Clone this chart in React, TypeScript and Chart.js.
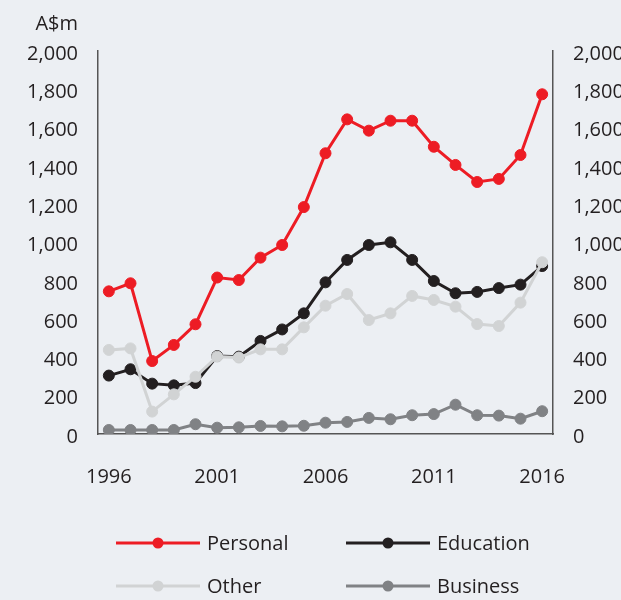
import React, { useEffect, useRef } from "react";
import { Chart, registerables } from "chart.js";

Chart.register(...registerables);

const years = [
  "1996", "1997", "1998", "1999", "2000", "2001", "2002", "2003", "2004", "2005",
  "2006", "2007", "2008", "2009", "2010", "2011", "2012", "2013", "2014", "2015", "2016",
];
const xTickLabels = ["1996", "2001", "2006", "2011", "2016"];

const personal = [745, 787, 381, 465, 573, 817, 804, 921, 987, 1185, 1466, 1643, 1584, 1636, 1636, 1500, 1405, 1316, 1332, 1457, 1774];
const education = [305, 338, 263, 254, 266, 407, 404, 486, 546, 630, 792, 909, 987, 1001, 909, 799, 735, 742, 762, 780, 877];
const other = [439, 447, 117, 207, 299, 404, 399, 442, 442, 557, 670, 731, 595, 630, 721, 700, 665, 574, 564, 686, 897];
const business = [21, 21, 21, 21, 51, 33, 35, 42, 40, 43, 59, 63, 84, 77, 98, 104, 153, 98, 96, 80, 119];

const unitLabel = "A$m";
const FONT = "'Open Sans', sans-serif";
const TEXT = "#231F20";
const BG = "#ECEFF3";
const AXIS = "#555555";

const seriesDefs = [
  { label: "Personal", data: personal, color: "#ED1C24", order: 1 },
  { label: "Education", data: education, color: "#231F20", order: 2 },
  { label: "Other", data: other, color: "#D1D3D4", order: 0 },
  { label: "Business", data: business, color: "#808285", order: 3 },
];

const overlayPlugin = {
  id: "overlay",
  afterDraw(chart: any) {
    const ctx = chart.ctx;
    ctx.save();
    ctx.fillStyle = TEXT;
    ctx.font = `20px ${FONT}`;
    ctx.textAlign = "right";
    ctx.textBaseline = "alphabetic";
    const left = chart.chartArea.left;
    ctx.fillText(unitLabel, left - 20, 30);

    // legend 2x2
    const cols = [116, 346];
    const rows = [543, 586];
    const lineLen = 84;
    chart.data.datasets.forEach((ds: any, i: number) => {
      const cx = cols[i % 2];
      const cy = rows[Math.floor(i / 2)];
      ctx.strokeStyle = ds.borderColor;
      ctx.lineWidth = 3;
      ctx.beginPath();
      ctx.moveTo(cx, cy);
      ctx.lineTo(cx + lineLen, cy);
      ctx.stroke();
      ctx.fillStyle = ds.borderColor;
      ctx.beginPath();
      ctx.arc(cx + lineLen / 2, cy, 5.5, 0, Math.PI * 2);
      ctx.fill();
      ctx.fillStyle = TEXT;
      ctx.textAlign = "left";
      ctx.textBaseline = "alphabetic";
      ctx.fillText(ds.label, cx + lineLen + 7, cy + 7);
    });
    ctx.restore();
  },
};

export default function App() {
  const ref = useRef<HTMLCanvasElement | null>(null);
  useEffect(() => {
    if (!ref.current) return;
    const tickFont = { family: FONT, size: 20 };
    const chart = new Chart(ref.current, {
      type: "line",
      data: {
        labels: years,
        datasets: seriesDefs.map((s) => ({
          label: s.label,
          data: s.data,
          borderColor: s.color,
          backgroundColor: s.color,
          pointBackgroundColor: s.color,
          pointBorderColor: s.color,
          borderWidth: 3,
          pointRadius: 5.5,
          pointBorderWidth: 1,
          tension: 0,
          order: s.order,
        })),
      },
      options: {
        animation: false,
        responsive: false,
        maintainAspectRatio: false,
        layout: { padding: { left: 0, right: 0, top: 51, bottom: 96 } },
        plugins: {
          legend: { display: false },
          tooltip: { enabled: false },
          title: { display: false },
        },
        scales: {
          x: {
            type: "category",
            offset: true,
            grid: { display: false },
            border: { display: true, color: AXIS, width: 1.5 },
            ticks: {
              autoSkip: false,
              maxRotation: 0,
              padding: 23,
              color: TEXT,
              font: tickFont,
              callback: function (this: any, value: any) {
                const lab = this.getLabelForValue(value);
                return xTickLabels.includes(lab) ? lab : "";
              },
            },
            afterFit: (s: any) => {
              s.height = 70;
            },
          },
          y: {
            type: "linear",
            position: "left",
            min: 0,
            max: 2000,
            grid: { display: false },
            border: { display: true, color: AXIS, width: 1.5 },
            ticks: {
              stepSize: 200,
              padding: 12,
              labelOffset: 3,
              color: TEXT,
              font: tickFont,
              callback: (v: any) => Number(v).toLocaleString("en-US"),
            },
            afterFit: (s: any) => {
              s.width = 98;
            },
          },
          y2: {
            type: "linear",
            position: "right",
            min: 0,
            max: 2000,
            grid: { display: false },
            border: { display: true, color: AXIS, width: 1.5 },
            ticks: {
              stepSize: 200,
              padding: 12,
              labelOffset: 3,
              color: TEXT,
              font: tickFont,
              callback: (v: any) => Number(v).toLocaleString("en-US"),
            },
            afterFit: (s: any) => {
              s.width = 68;
            },
          },
        },
      },
      plugins: [overlayPlugin],
    } as any);
    return () => chart.destroy();
  }, []);
  return (
    <div style={{ position: "fixed", left: 0, top: 0, width: 621, height: 600, background: BG }}>
      <canvas ref={ref} width={621} height={600} style={{ display: "block", width: 621, height: 600 }} />
    </div>
  );
}
